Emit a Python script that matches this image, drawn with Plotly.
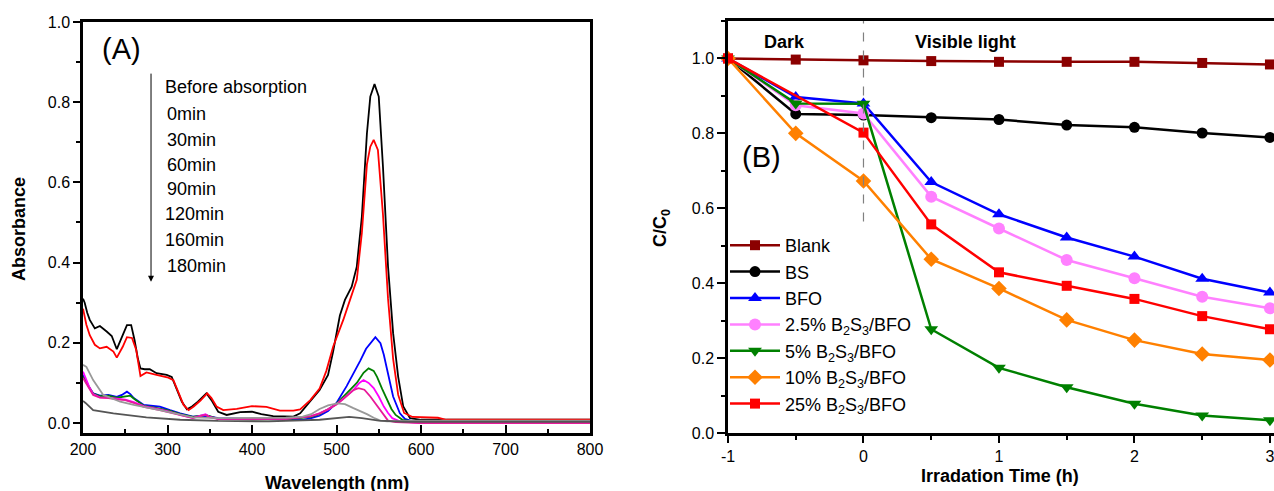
import plotly.graph_objects as go

W, H = 1274, 491

# ---------------- Panel A: UV-vis spectra ----------------
wl_before = [200, 202, 205, 208, 214, 220, 228, 234, 240, 246, 252, 257, 261, 265, 268, 273, 279, 287, 299, 305,
             311, 317, 323, 329, 336, 346, 352, 360, 370, 386, 400, 411, 425, 449, 457, 469, 480, 490, 496, 504,
             510, 518, 524, 530, 536, 540, 545, 550, 555, 561, 567, 573, 579, 587, 600, 700, 800]
abs_before = [0.31, 0.30, 0.275, 0.257, 0.236, 0.242, 0.228, 0.217, 0.184, 0.215, 0.244, 0.244, 0.207, 0.16, 0.136,
              0.134, 0.134, 0.124, 0.120, 0.115, 0.082, 0.053, 0.034, 0.041, 0.053, 0.074, 0.057, 0.028, 0.020,
              0.027, 0.028, 0.022, 0.017, 0.016, 0.024, 0.053, 0.082, 0.12, 0.178, 0.268, 0.307, 0.340, 0.390,
              0.514, 0.722, 0.814, 0.845, 0.814, 0.639, 0.39, 0.224, 0.115, 0.041, 0.012, 0.008, 0.008, 0.008]

wl_0 = [200, 204, 208, 214, 220, 228, 236, 240, 247, 252, 258, 263, 268, 275, 287, 301, 307, 313, 319, 325, 331,
        339, 347, 352, 358, 366, 382, 400, 417, 433, 449, 457, 469, 480, 488, 496, 508, 516, 524, 530, 536, 540,
        544, 549, 555, 561, 567, 573, 580, 590, 620, 630, 700, 800]
abs_0 = [0.285, 0.245, 0.219, 0.195, 0.186, 0.19, 0.178, 0.163, 0.19, 0.214, 0.212, 0.182, 0.117, 0.126, 0.12,
         0.113, 0.107, 0.074, 0.045, 0.032, 0.041, 0.056, 0.074, 0.062, 0.041, 0.032, 0.035, 0.042, 0.04, 0.031,
         0.031, 0.034, 0.057, 0.086, 0.13, 0.19, 0.257, 0.307, 0.357, 0.474, 0.645, 0.689, 0.706, 0.681, 0.52,
         0.31, 0.16, 0.07, 0.025, 0.015, 0.013, 0.008, 0.008, 0.008]

wl_30 = [200, 202, 207, 212, 220, 230, 240, 246, 252, 256, 260, 272, 291, 303, 315, 330, 345, 360, 400, 440,
         460, 470, 480, 490, 500, 512, 520, 528, 535, 540, 546, 552, 556, 560, 567, 575, 581, 590, 700, 800]
abs_30 = [0.12, 0.111, 0.09, 0.074, 0.068, 0.07, 0.065, 0.07, 0.078, 0.072, 0.062, 0.045, 0.041, 0.032, 0.024,
          0.016, 0.018, 0.012, 0.01, 0.008, 0.008, 0.012, 0.018, 0.03, 0.05, 0.092, 0.122, 0.155, 0.185, 0.199,
          0.214, 0.199, 0.17, 0.132, 0.066, 0.024, 0.01, 0.004, 0.004, 0.004]

wl_60 = [200, 202, 207, 212, 220, 230, 240, 250, 256, 262, 272, 291, 303, 315, 330, 345, 350, 360, 400, 440,
         470, 480, 490, 500, 512, 524, 532, 538, 544, 548, 554, 560, 565, 570, 578, 590, 700, 800]
abs_60 = [0.115, 0.108, 0.088, 0.073, 0.067, 0.068, 0.063, 0.066, 0.068, 0.058, 0.043, 0.036, 0.03, 0.022, 0.015,
          0.02, 0.016, 0.01, 0.009, 0.009, 0.015, 0.022, 0.034, 0.048, 0.074, 0.1, 0.125, 0.136, 0.13, 0.115,
          0.085, 0.057, 0.035, 0.02, 0.008, 0.004, 0.004, 0.004]

wl_90 = [200, 202, 207, 212, 220, 230, 240, 250, 260, 272, 291, 303, 315, 330, 345, 350, 360, 400, 440, 470,
         480, 490, 500, 510, 520, 527, 532, 538, 544, 550, 556, 561, 566, 575, 600, 700, 800]
abs_90 = [0.128, 0.118, 0.092, 0.072, 0.064, 0.063, 0.06, 0.058, 0.052, 0.042, 0.034, 0.028, 0.02, 0.013, 0.022,
          0.015, 0.01, 0.01, 0.01, 0.017, 0.024, 0.034, 0.047, 0.064, 0.082, 0.1, 0.107, 0.1, 0.087, 0.066,
          0.041, 0.025, 0.012, 0.004, 0.0, 0.0, 0.0]

wl_120 = [200, 202, 207, 212, 220, 230, 240, 250, 260, 272, 291, 303, 315, 330, 345, 350, 360, 400, 440, 470,
          480, 490, 500, 507, 514, 520, 526, 533, 540, 546, 552, 557, 561, 570, 600, 700, 800]
abs_120 = [0.112, 0.105, 0.085, 0.07, 0.063, 0.062, 0.059, 0.057, 0.05, 0.04, 0.032, 0.026, 0.019, 0.012, 0.02,
           0.014, 0.01, 0.01, 0.01, 0.017, 0.024, 0.034, 0.046, 0.058, 0.072, 0.082, 0.087, 0.083, 0.066, 0.048,
           0.03, 0.015, 0.006, 0.002, 0.0, 0.0, 0.0]

wl_160 = [200, 204, 212, 224, 244, 260, 291, 315, 330, 360, 400, 440, 460, 470, 480, 490, 501, 510, 520, 528,
          536, 544, 552, 560, 600, 700, 800]
abs_160 = [0.145, 0.14, 0.107, 0.07, 0.053, 0.045, 0.032, 0.02, 0.014, 0.012, 0.012, 0.013, 0.016, 0.022, 0.035,
           0.044, 0.049, 0.047, 0.037, 0.03, 0.022, 0.013, 0.006, 0.004, 0.006, 0.006, 0.006]

wl_180 = [200, 203, 212, 236, 275, 315, 360, 420, 480, 500, 515, 530, 550, 580, 700, 800]
abs_180 = [0.055, 0.05, 0.032, 0.024, 0.014, 0.008, 0.005, 0.004, 0.008, 0.013, 0.015, 0.012, 0.006, 0.003,
           0.003, 0.003]

spectra_labels = ["Before absorption", "0min", "30min", "60min", "90min", "120min", "160min", "180min"]
spectra_colors = ["#000000", "#FF0000", "#0000FF", "#008000", "#FF00FF", "#E8199A", "#999999", "#555555"]
spectra_x = [wl_before, wl_0, wl_30, wl_60, wl_90, wl_120, wl_160, wl_180]
spectra_y = [abs_before, abs_0, abs_30, abs_60, abs_90, abs_120, abs_160, abs_180]
wl_ticks = [200, 300, 400, 500, 600, 700, 800]
abs_ticks = [0.0, 0.2, 0.4, 0.6, 0.8, 1.0]

# ---------------- Panel B: degradation kinetics ----------------
time_h = [-1, -0.5, 0, 0.5, 1, 1.5, 2, 2.5, 3]
time_h_25 = [-1, 0, 0.5, 1, 1.5, 2, 2.5, 3]
c_blank = [1.0, 0.997, 0.995, 0.993, 0.991, 0.991, 0.991, 0.988, 0.984]
c_bs = [1.0, 0.852, 0.849, 0.842, 0.837, 0.822, 0.816, 0.801, 0.789]
c_bfo = [1.0, 0.897, 0.880, 0.670, 0.584, 0.522, 0.471, 0.412, 0.375]
c_25pct = [1.0, 0.875, 0.853, 0.631, 0.546, 0.462, 0.413, 0.364, 0.333]
c_5pct = [1.0, 0.880, 0.879, 0.277, 0.174, 0.122, 0.078, 0.047, 0.034]
c_10pct = [1.0, 0.800, 0.673, 0.464, 0.386, 0.302, 0.248, 0.211, 0.195]
c_25 = [1.0, 0.802, 0.557, 0.429, 0.393, 0.358, 0.312, 0.277]
time_ticks = [-1, 0, 1, 2, 3]
time_tick_text = ["-1", "0", "1", "2", "3"]
c_ticks = [0.0, 0.2, 0.4, 0.6, 0.8, 1.0]

kin_names = ["Blank", "BS", "BFO", "2.5% B<sub>2</sub>S<sub>3</sub>/BFO", "5% B<sub>2</sub>S<sub>3</sub>/BFO",
             "10% B<sub>2</sub>S<sub>3</sub>/BFO", "25% B<sub>2</sub>S<sub>3</sub>/BFO"]
kin_x = [time_h, time_h, time_h, time_h, time_h, time_h, time_h_25]
kin_y = [c_blank, c_bs, c_bfo, c_25pct, c_5pct, c_10pct, c_25]
kin_colors = ["#8B0000", "#000000", "#0000FF", "#FF80FF", "#008000", "#FF8000", "#FF0000"]
kin_symbols = ["square", "circle", "triangle-up", "circle", "triangle-down", "diamond", "square"]
kin_sizes = [10, 11, 12, 12, 12, 12, 10]

FONT = "Arial, Liberation Sans, sans-serif"

fig = go.Figure()

for x, y, c, n in zip(spectra_x, spectra_y, spectra_colors, spectra_labels):
    fig.add_trace(go.Scatter(x=x, y=y, mode="lines", name=n, line=dict(color=c, width=1.8),
                             xaxis="x", yaxis="y", showlegend=False))

for x, y, c, n, s, sz in zip(kin_x, kin_y, kin_colors, kin_names, kin_symbols, kin_sizes):
    fig.add_trace(go.Scatter(x=x, y=y, mode="lines+markers", name=n,
                             line=dict(color=c, width=2.5),
                             marker=dict(symbol=s, size=sz, color=c),
                             xaxis="x2", yaxis="y2", cliponaxis=False))


def px(X):
    return X / W


def py(Y):
    return 1 - Y / H


axis_common = dict(showgrid=False, zeroline=False, showline=True, linecolor="black", linewidth=2.5,
                   tickcolor="black", tickwidth=2, automargin=False, ticklabeloverflow="allow",
                   tickfont=dict(family=FONT, size=16, color="black"))

fig.update_layout(
    template="none",
    width=W, height=H, margin=dict(l=0, r=0, t=0, b=0, pad=0), autosize=False,
    paper_bgcolor="white", plot_bgcolor="white",
    font=dict(family=FONT, color="black"),
    xaxis=dict(domain=[px(83), px(590)], range=[200, 800], tickvals=wl_ticks,
               ticks="inside", ticklen=8, mirror=True,
               minor=dict(dtick=50, ticks="inside", ticklen=4, tickcolor="black", tickwidth=2),
               anchor="y", **axis_common),
    yaxis=dict(domain=[py(433), py(22)], range=[-0.025, 1.0], tickvals=abs_ticks,
               tickformat=".1f", ticks="outside", ticklen=7, mirror=True,
               minor=dict(dtick=0.1, tick0=0, ticks="outside", ticklen=4, tickcolor="black", tickwidth=2),
               anchor="x", **axis_common),
    xaxis2=dict(domain=[px(728), 1.0], range=[-1, 3.03], tickvals=time_ticks, ticktext=time_tick_text,
                ticks="outside", ticklen=7, mirror=True,
                minor=dict(dtick=0.5, tick0=-1, ticks="outside", ticklen=4, tickcolor="black", tickwidth=2),
                anchor="y2", **axis_common),
    yaxis2=dict(domain=[py(433), py(21)], range=[0, 1.1], tickvals=c_ticks,
                tickformat=".1f", ticks="outside", ticklen=8,
                minor=dict(dtick=0.1, tick0=0, ticks="outside", ticklen=4, tickcolor="black", tickwidth=2),
                anchor="x2", **axis_common),
    legend=dict(x=px(725), y=py(227), xanchor="left", yanchor="top", bgcolor="rgba(0,0,0,0)",
                font=dict(family=FONT, size=18, color="black"), itemwidth=50, tracegroupgap=0),
)

# dashed divider between dark and light
fig.add_shape(type="line", xref="x2", yref="y2", x0=0, x1=0, y0=0.565, y1=1.1,
              line=dict(color="#808080", width=1.2, dash="dash"))


def label(text, X, Y, size=18, xanchor="center", angle=0):
    return dict(text=text, x=px(X), y=py(Y), xref="paper", yref="paper", showarrow=False,
                xanchor=xanchor, yanchor="middle", textangle=angle,
                font=dict(size=size, family=FONT, color="black"))


ann = []
# Panel A labels
ann.append(label("(A)", 121.5, 49, size=29))
list_y = [87.3, 114.3, 140, 165, 189.3, 214.3, 240, 265.7]
list_x = [163, 165, 165, 165, 165, 163, 163, 165]
for t, xx, yy in zip(spectra_labels, list_x, list_y):
    ann.append(label(t, xx, yy, xanchor="left"))
ann.append(dict(x=280.5, y=0.352, ax=280.5, ay=0.875, xref="x", yref="y", axref="x", ayref="y",
                text="", showarrow=True, arrowhead=2, arrowsize=1.2, arrowwidth=1, arrowcolor="black"))
ann.append(label("<b>Absorbance</b>", 19, 229, angle=-90))
ann.append(label("<b>Wavelength (nm)</b>", 336.5, 482.5))

# Panel B labels
ann.append(label("(B)", 761.7, 156.7, size=29))
ann.append(label("<b>Dark</b>", 784.7, 41.7))
ann.append(label("<b>Visible light</b>", 965, 41.7))
ann.append(label("<b>C/C<sub>0</sub></b>", 661, 228, angle=-90))
ann.append(label("<b>Irradation Time (h)</b>", 1000, 476))
fig.update_layout(annotations=ann)

fig.write_html("out.html", config={"displayModeBar": False},
               post_script="document.body.style.margin='0';document.body.style.overflow='hidden';")
